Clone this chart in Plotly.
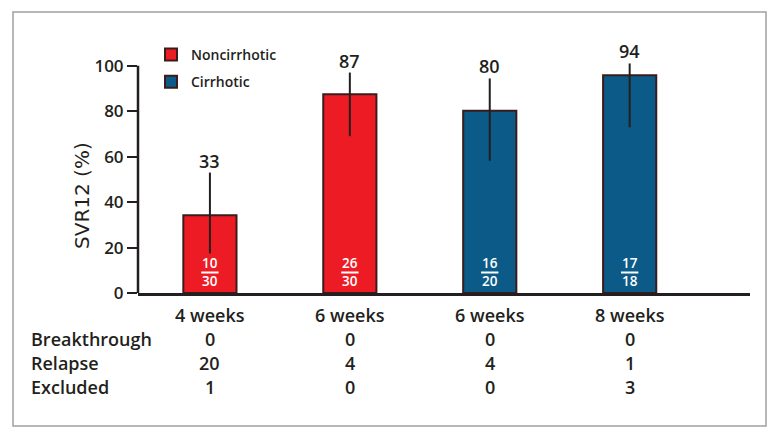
import plotly.graph_objects as go

# ---- data ----
categories = ["4 weeks", "6 weeks", "6 weeks", "8 weeks"]
groups = ["Noncirrhotic", "Noncirrhotic", "Cirrhotic", "Cirrhotic"]
svr = [34.2, 87.5, 80.2, 95.8]
svr_labels = ["33", "87", "80", "94"]
ci_upper = [53.0, 97.0, 94.4, 101.0]
ci_lower = [17.4, 69.0, 58.2, 72.9]
responders = [10, 26, 16, 17]
totals = [30, 30, 20, 18]
row_names = ["Breakthrough", "Relapse", "Excluded"]
breakthrough = [0, 0, 0, 0]
relapse = [20, 4, 4, 1]
excluded = [1, 0, 0, 3]

colors = {"Noncirrhotic": "#ED1C24", "Cirrhotic": "#0B5A87"}
dark = "#231F20"
FONT = "Open Sans"

# pixel geometry helpers (layout only)
W, H = 775, 439
ml, mr, mt, mb = 138, 25, 43, 146
pw, ph = W - ml - mr, H - mt - mb


def px_x(px):
    return (px - ml) / pw


def px_y(py):
    return (H - mb - py) / ph


fig = go.Figure()
for g in ["Noncirrhotic", "Cirrhotic"]:
    idx = [i for i, gg in enumerate(groups) if gg == g]
    fig.add_trace(go.Bar(
        x=idx,
        y=[svr[i] for i in idx],
        name=g,
        width=0.38,
        marker=dict(color=colors[g], line=dict(color="#3a1c1c", width=2)),
        error_y=dict(
            type="data", symmetric=False,
            array=[ci_upper[i] - svr[i] for i in idx],
            arrayminus=[svr[i] - ci_lower[i] for i in idx],
            color=dark, thickness=2, width=0,
        ),
        legendgroup=g,
    ))

annotations = []
shapes = []
# value labels above error bars
for i, lab in enumerate(svr_labels):
    annotations.append(dict(x=i, y=ci_upper[i], xref="x", yref="y", text=lab,
                            showarrow=False, yanchor="middle", yshift=12,
                            font=dict(family=FONT, size=18, color=dark, weight=600)))
# fractions inside bars
for i in range(len(categories)):
    annotations.append(dict(x=i, y=0, xref="x", yref="y",
                            text=f"{responders[i]}<br>{totals[i]}",
                            showarrow=False, yanchor="middle", yshift=21,
                            font=dict(family=FONT, size=13.5, color="white", weight=600)))
    shapes.append(dict(type="line", xref="x", yref="y", ysizemode="pixel", yanchor=0,
                       x0=i - 0.062, x1=i + 0.062, y0=20.5, y1=20.5,
                       line=dict(color="white", width=2)))

# category labels and table
rows = [categories, breakthrough, relapse, excluded]
row_py = [315, 339, 363, 387]
for r, vals in enumerate(rows):
    for i, v in enumerate(vals):
        annotations.append(dict(x=i, y=px_y(row_py[r]), xref="x", yref="paper", text=str(v),
                                showarrow=False, yanchor="middle", xanchor="center",
                                font=dict(family=FONT, size=18, color=dark, weight=600)))
for r, name in enumerate(row_names):
    annotations.append(dict(x=px_x(29), y=px_y(row_py[r + 1]), xref="paper", yref="paper",
                            text=name, showarrow=False, xanchor="left", yanchor="middle",
                            font=dict(family=FONT, size=18, color=dark, weight=600)))

# y-axis title
annotations.append(dict(x=px_x(82), y=px_y(196), xref="paper", yref="paper",
                        text="SVR12 (%)", textangle=-90, showarrow=False,
                        xanchor="center", yanchor="middle",
                        font=dict(family="DejaVu Sans", size=20, color=dark)))

# y axis line (0..100 only)
shapes.append(dict(type="line", xref="x domain", yref="y", x0=0, x1=0, y0=0, y1=100,
                   line=dict(color=dark, width=2.5)))
# frame
shapes.append(dict(type="rect", xref="paper", yref="paper",
                   x0=px_x(13), x1=px_x(766), y0=px_y(426), y1=px_y(12),
                   line=dict(color="#a0a0a0", width=1.5), fillcolor="rgba(0,0,0,0)",
                   layer="below"))

fig.update_layout(
    width=W, height=H,
    margin=dict(l=ml, r=mr, t=mt, b=mb),
    paper_bgcolor="white", plot_bgcolor="white",
    barmode="overlay",
    showlegend=True,
    legend=dict(x=px_x(151), y=px_y(39), xanchor="left", yanchor="top",
                traceorder="grouped", tracegroupgap=6,
                font=dict(family=FONT, size=14, color=dark, weight=600),
                bgcolor="rgba(0,0,0,0)"),
    xaxis=dict(range=[-0.514, 3.86], showgrid=False, zeroline=False,
               showline=True, linecolor=dark, linewidth=2.5,
               showticklabels=False, ticks=""),
    yaxis=dict(range=[0, 110], tickvals=[0, 20, 40, 60, 80, 100],
               showgrid=False, zeroline=False, showline=False,
               ticks="outside", ticklen=10, tickwidth=2, tickcolor=dark,
               tickfont=dict(family=FONT, size=17, color=dark, weight=600)),
    annotations=annotations,
    shapes=shapes,
)

fig.write_html("out.html", config={"displayModeBar": False},
               post_script="document.body.style.margin='0';document.body.style.overflow='hidden';")
